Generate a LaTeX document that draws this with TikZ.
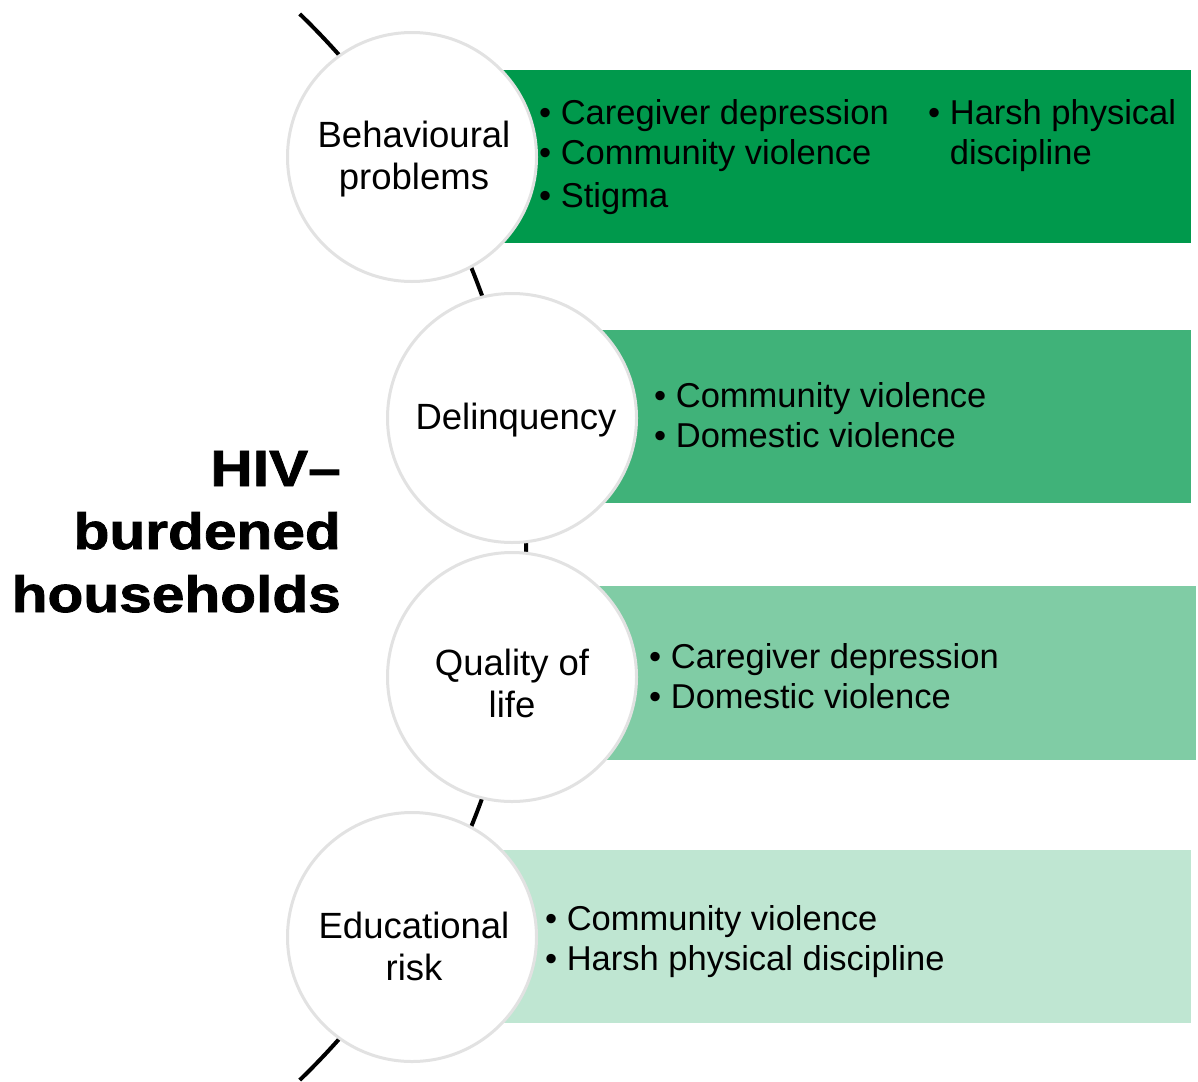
\documentclass[tikz,border=0pt]{standalone}
\usepackage{fontspec}
\setmainfont{Liberation Sans}
\newfontfamily\titlefont{Liberation Sans Bold}[FakeStretch=1.15,FakeBold=1.6]
\usepackage{tikz}
\usetikzlibrary{positioning}

\definecolor{hivgreen}{RGB}{0,153,76}
\definecolor{ringgray}{RGB}{226,226,226}

\tikzset{
  outcome/.style = {circle, draw=ringgray, line width=3pt, fill=white, minimum size=249pt, inner sep=0pt},
  outlabel/.style = {anchor=base, align=center, inner sep=0pt, font=\fontsize{36.5}{42}\selectfont},
  band/.style = {rectangle, anchor=north west, inner sep=0pt, draw=none},
  items/.style = {anchor=base west, align=left, inner sep=0pt, font=\fontsize{34.5}{40}\selectfont},
  arcline/.style = {line width=4pt, black}
}

\begin{document}
\begin{tikzpicture}[x=1pt,y=-1pt]
\useasboundingbox (0,0) rectangle (1198,1081);

% coloured bands
\node[band, fill=hivgreen, minimum width=779pt, minimum height=173pt] (b1) at (412,70) {};
\node[band, fill=hivgreen!75, minimum width=679pt, minimum height=173pt] (b2) at (512,330) {};
\node[band, fill=hivgreen!50, minimum width=684pt, minimum height=174pt] (b3) at (512,586) {};
\node[band, fill=hivgreen!25, minimum width=779pt, minimum height=173pt] (b4) at (412,850) {};

% backbone
\coordinate (hub) at (-215,547);
\draw[arcline] (hub) ++(-46:741) arc[start angle=-46, end angle=46, radius=741];

% outcomes
\node[outcome] (c1) at (412,157) {};
\node[outcome] (c2) at (512,418) {};
\node[outcome] (c3) at (512,677) {};
\node[outcome] (c4) at (412,937) {};

% labels (base = last line)
\node[outlabel] (l1) at (414,189) {Behavioural\\problems};
\node[outlabel] (l2) at (516,429) {Delinquency};
\node[outlabel] (l3) at (512,717) {Quality of\\life};
\node[outlabel] (l4) at (414,980) {Educational\\risk};

% risk factors
\node[items] (f1) at (539,207) {• Caregiver depression\\• Community violence\\[3pt]• Stigma};
\node[items] (f1b) at (928,164) {• Harsh physical\\\hphantom{•} discipline};
\node[items] (f2) at (654,447) {• Community violence\\• Domestic violence};
\node[items] (f3) at (649,708) {• Caregiver depression\\• Domestic violence};
\node[items] (f4) at (545,970) {• Community violence\\• Harsh physical discipline};

% title
\node[anchor=base east, align=right, inner sep=0pt, font=\titlefont\fontsize{51}{63}\selectfont] (hiv) at (341,612) {HIV–\\burdened\\households};
\end{tikzpicture}
\end{document}
